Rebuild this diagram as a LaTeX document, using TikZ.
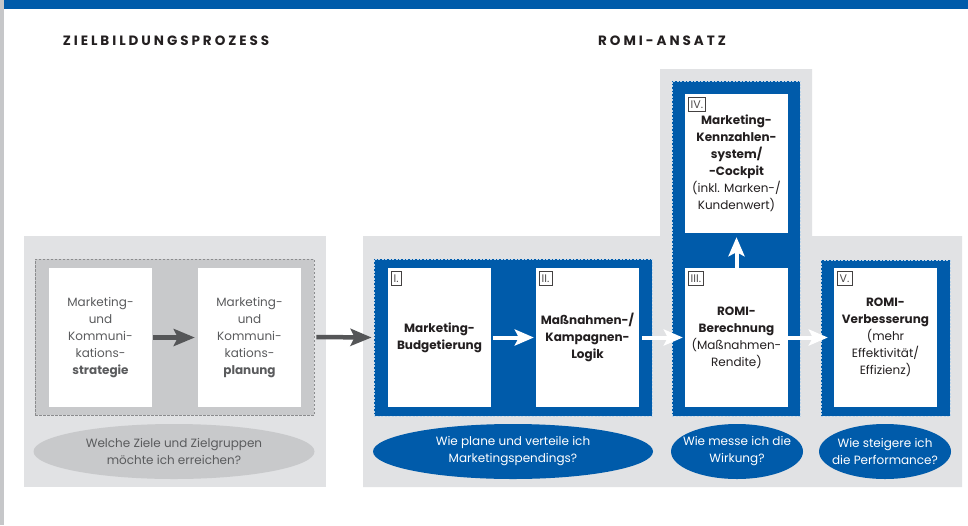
\documentclass[tikz,border=0pt]{standalone}
\usepackage{fontspec}
\setmainfont{Poppins}
\newfontfamily\headfont{Poppins}[LetterSpace=22]
\usetikzlibrary{shapes.geometric, arrows.meta, positioning, calc}
\definecolor{romiblue}{HTML}{005BAA}
\definecolor{panelgray}{HTML}{E1E2E4}
\definecolor{groupgray}{HTML}{C8C9CB}
\definecolor{stripgray}{HTML}{C6C7C9}
\definecolor{textgray}{HTML}{5A5B5D}
\definecolor{textdark}{HTML}{231F20}
\definecolor{arrowgray}{HTML}{555658}

\tikzset{
  card/.style={fill=white, minimum width=103pt, minimum height=139pt,
    inner sep=0pt, align=center, text=textdark,
    font=\fontsize{12}{17}\selectfont},
  graycard/.style={card, text=textgray},
  numlabel/.style={draw=textdark!85, line width=0.8pt, inner xsep=2.5pt,
    inner ysep=0pt, minimum height=14.5pt, text=textdark!80,
    font=\fontsize{11}{11}\selectfont},
  graygroup/.style={fill=groupgray, draw=textgray!70, line width=0.7pt,
    dash pattern=on 2.5pt off 1.5pt, inner sep=0pt},
  bluegroup/.style={fill=romiblue, draw=white!75!romiblue, line width=0.8pt,
    dash pattern=on 2pt off 1.5pt, inner sep=0pt},
  question/.style={ellipse, minimum width=281pt, minimum height=55pt,
    inner xsep=-12pt, inner ysep=0pt, align=center,
    font=\fontsize{12}{17}\selectfont},
  headline/.style={text=textdark, font=\headfont\bfseries\fontsize{13.5}{14}\selectfont},
  grayarrow/.style={draw=arrowgray, line width=4.5pt,
    -{Stealth[length=21pt, width=17pt, inset=4pt]}},
  whitearrow/.style={draw=white, line width=4pt,
    -{Stealth[length=19pt, width=16pt, inset=4pt]}}
}

\begin{document}
\begin{tikzpicture}[x=1pt, y=-1pt]
  \useasboundingbox (0,0) rectangle (968,525);
  \fill[white] (0,0) rectangle (968,525);
  % edge strip and top bar
  \fill[stripgray] (0,0) rectangle (4,525);
  \fill[romiblue] (4,0) rectangle (968,9);

  % headings
  \node[headline] (zbp) at (166,41) {ZIELBILDUNGSPROZESS};
  \node[headline] (ansatz) at (662,41) {ROMI-ANSATZ};

  % background panels
  \fill[panelgray] (24,236) rectangle (326,487);
  \fill[panelgray] (363,236) -- (660,236) -- (660,69) -- (812,69)
    -- (812,236) -- (962,236) -- (962,487) -- (363,487) -- cycle;

  % groups
  \node[graygroup, minimum width=279pt, minimum height=156pt] (ziel) at (174.5,337) {};
  \node[bluegroup, minimum width=278pt, minimum height=157pt] (planen) at (513,337.5) {};
  \node[bluegroup, minimum width=128pt, minimum height=335pt] (messen) at (736,248.5) {};
  \node[bluegroup, minimum width=129pt, minimum height=156pt] (steigern) at (885.5,338) {};

  % cards
  \node[graycard] (strategie) at (100.5,337.5)
    {Marketing-\\und\\Kommuni-\\kations-\\\textbf{strategie}};
  \node[graycard] (planung) at (249.5,337.5)
    {Marketing-\\und\\Kommuni-\\kations-\\\textbf{planung}};
  \node[card, font=\bfseries\fontsize{12}{17}\selectfont] (budget) at (439.5,337.5)
    {Marketing-\\Budgetierung};
  \node[card, font=\bfseries\fontsize{12}{17}\selectfont] (logik) at (587.5,337.5)
    {Maßnahmen-/\\Kampagnen-\\Logik};
  \node[card] (romi) at (736.5,337.5)
    {\textbf{ROMI-}\\\textbf{Berechnung}\\(Maßnahmen-\\Rendite)};
  \node[card] (cockpit) at (736.5,163.5)
    {\textbf{Marketing-}\\\textbf{Kennzahlen-}\\\textbf{system/}\\\textbf{-Cockpit}\\(inkl. Marken-/\\Kundenwert)};
  \node[card] (verbesserung) at (885.5,337.5)
    {\textbf{ROMI-}\\\textbf{Verbesserung}\\(mehr\\Effektivität/\\Effizienz)};

  % step numbers
  \node[numlabel, anchor=north west] (n1) at ($(budget.north west)+(3,3)$) {I.};
  \node[numlabel, anchor=north west] (n2) at ($(logik.north west)+(3,3)$) {II.};
  \node[numlabel, anchor=north west] (n3) at ($(romi.north west)+(3,3)$) {III.};
  \node[numlabel, anchor=north west] (n4) at ($(cockpit.north west)+(3,3)$) {IV.};
  \node[numlabel, anchor=north west] (n5) at ($(verbesserung.north west)+(3,3)$) {V.};

  % arrows
  \draw[grayarrow, shorten <=1pt, shorten >=3pt] (strategie) -- (planung);
  \draw[grayarrow, shorten <=2pt, shorten >=2pt] (ziel.east) -- (planen.west);
  \draw[whitearrow, shorten <=2pt, shorten >=2pt] (budget) -- (logik);
  \draw[whitearrow, shorten <=3pt, shorten >=2pt] (logik) -- (romi);
  \draw[whitearrow, shorten >=6pt] (romi) -- (verbesserung);
  \draw[whitearrow, shorten >=4pt] (romi) -- (cockpit);

  % questions
  \node[question, fill=groupgray, text=textgray] (q1) at (174,451.5)
    {Welche Ziele und Zielgruppen\\möchte ich erreichen?};
  \node[question, fill=romiblue, text=white, minimum width=280pt] (q2) at (513,451.5)
    {Wie plane und verteile ich\\Marketingspendings?};
  \node[question, fill=romiblue, text=white, minimum width=132pt] (q3) at (737,451.5)
    {Wie messe ich die\\Wirkung?};
  \node[question, fill=romiblue, text=white, minimum width=132pt] (q4) at (885,451.5)
    {Wie steigere ich\\die Performance?};
\end{tikzpicture}
\end{document}
